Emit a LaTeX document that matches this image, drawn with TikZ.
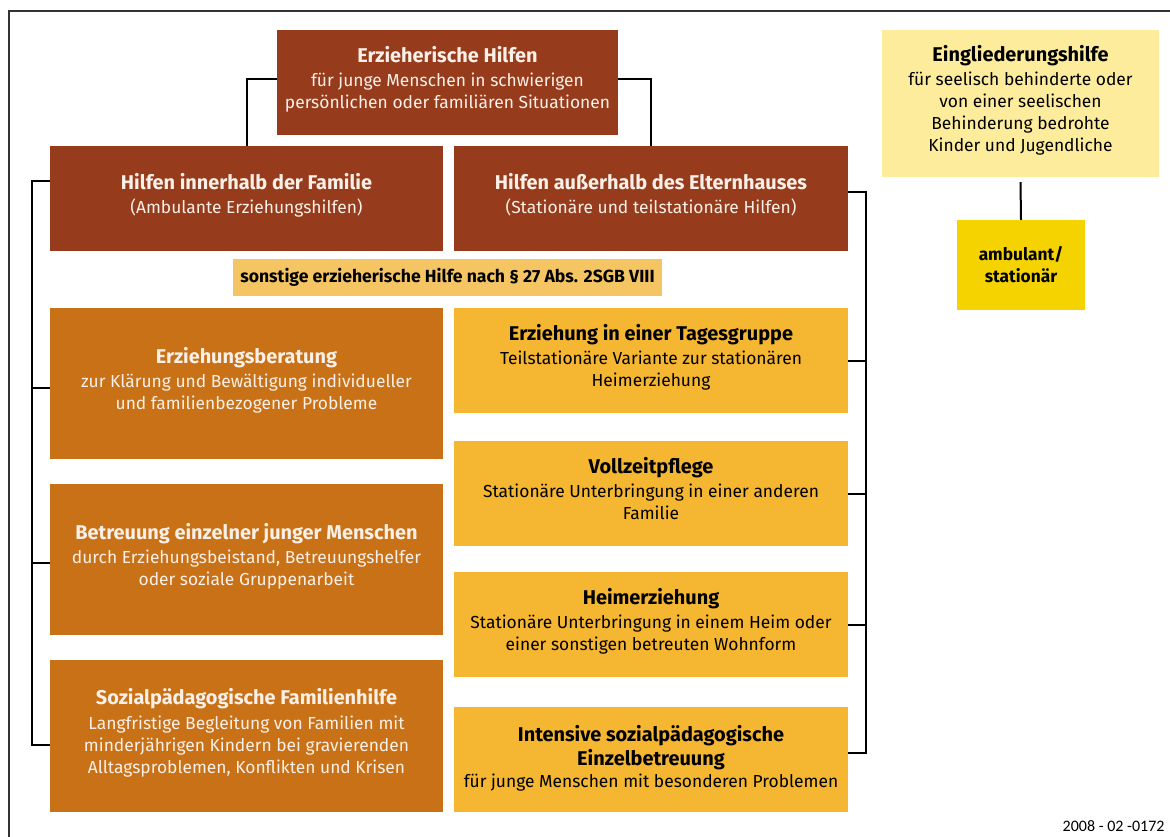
\documentclass[tikz,border=0pt]{standalone}
\usepackage{fontspec}
\setmainfont{Fira Sans}
\newfontfamily\footfont{Carlito}
\usepackage{tikz}
\usetikzlibrary{positioning,calc}

\definecolor{braun}{HTML}{963C1D}
\definecolor{ocker}{HTML}{C87116}
\definecolor{gold}{HTML}{F5B631}
\definecolor{sand}{HTML}{F6C563}
\definecolor{blass}{HTML}{FDEC9B}
\definecolor{zitron}{HTML}{F5D300}
\definecolor{creme}{HTML}{FAF0E8}
\definecolor{rahmen}{HTML}{333333}

\newcommand{\titel}[1]{{\bfseries\fontsize{19.9}{22}\selectfont #1}\\[2.5pt]}
\newcommand{\fett}[1]{{\bfseries\fontsize{19.9}{22}\selectfont #1}}

\begin{document}
\begin{tikzpicture}[
			x = 1pt, y = -1pt,
			box/.style = {inner sep = 0pt, align = center, font = \fontsize{17.4}{22}\selectfont},
			tief/.style = {box, text depth = 10.5pt},
			dunkel/.style = {tief, fill = braun, text = creme, minimum height = 105},
			mittel/.style = {tief, fill = ocker, text = creme, minimum width = 393, minimum height = 151},
			hell/.style = {tief, fill = gold, text = black, minimum width = 394, minimum height = 105},
			linie/.style = {line width = 2pt, black}
			]

			\useasboundingbox (0,0) rectangle (1170,837);

			\def\lx{246.5}
			\def\rx{651}

			% Rahmen
			\draw[line width = 1.6pt, rahmen] (1170,11) -- (9,11) -- (9,837);

			% Kopf
			\node[dunkel, minimum width = 341] (kopf) at (447.5,82.5)
				{\titel{Erzieherische Hilfen}für junge Menschen in schwierigen\\persönlichen oder familiären Situationen};
			\node[dunkel, minimum width = 393] (innen) at (\lx,198.5)
				{\titel{Hilfen innerhalb der Familie}(Ambulante Erziehungshilfen)};
			\node[dunkel, minimum width = 394] (aussen) at (\rx,198.5)
				{\titel{Hilfen außerhalb des Elternhauses}(Stationäre und teilstationäre Hilfen)};

			\node[box, fill = sand, minimum width = 429, minimum height = 37, font = \bfseries\fontsize{17.6}{20}\selectfont] (sonst) at (447.5,277.5)
				{sonstige erzieherische Hilfe nach § 27 Abs. 2SGB VIII};

			% linke Spalte
			\node[mittel] (beratung) at (\lx,383.5)
				{\titel{Erziehungsberatung}zur Klärung und Bewältigung individueller\\und familienbezogener Probleme};
			\node[mittel] (betreuung) at (\lx,559.5)
				{\titel{Betreuung einzelner junger Menschen}durch Erziehungsbeistand, Betreuungshelfer\\oder soziale Gruppenarbeit};
			\node[mittel, minimum height = 152] (familie) at (\lx,736)
				{\titel{Sozialpädagogische Familienhilfe}Langfristige Begleitung von Familien mit\\minderjährigen Kindern bei gravierenden\\Alltagsproblemen, Konflikten und Krisen};

			% rechte Spalte
			\node[hell] (tages) at (\rx,360.5)
				{\titel{Erziehung in einer Tagesgruppe}Teilstationäre Variante zur stationären\\Heimerziehung};
			\node[hell] (pflege) at (\rx,493.5)
				{\titel{Vollzeitpflege}Stationäre Unterbringung in einer anderen\\Familie};
			\node[hell] (heim) at (\rx,624.5)
				{\titel{Heimerziehung}Stationäre Unterbringung in einem Heim oder\\einer sonstigen betreuten Wohnform};
			\node[hell, text depth = 6pt] (intensiv) at (\rx,759.5)
				{\fett{Intensive sozialpädagogische}\\[2pt]\fett{Einzelbetreuung}\\für junge Menschen mit besonderen Problemen};

			% Eingliederungshilfe
			\node[tief, fill = blass, minimum width = 277, minimum height = 147] (eingl) at (1020.5,103.5)
				{\titel{Eingliederungshilfe}für seelisch behinderte oder\\von einer seelischen\\Behinderung bedrohte\\Kinder und Jugendliche};
			\node[box, fill = zitron, minimum width = 128, minimum height = 90, font = \bfseries\fontsize{17.3}{22}\selectfont] (amb) at (1021,265)
				{ambulant/\\stationär};

			% Verbindungen
			\draw[linie] ([yshift=3pt]kopf.west) -| (innen.north);
			\draw[linie] ([yshift=3pt]kopf.east) -| (aussen.north);
			\draw[linie] ([yshift=-5pt]eingl.south) -- (amb.north);

			\draw[linie] ([yshift=17pt]innen.west) -- ++(-18,0) coordinate (lk) |- ([yshift=-9pt]familie.west);
			\foreach \n/\s in {beratung/-4,betreuung/-3}
				\draw[linie] ([yshift=\s pt]\n.west) -- ([yshift=\s pt]\n.west -| lk);

			\draw[linie] ([yshift=6pt]aussen.east) -- ++(18,0) coordinate (rk) |- ([yshift=7pt]intensiv.east);
			\foreach \n in {tages,pflege,heim}
				\draw[linie] (\n.east) -- (\n.east -| rk);

			\node[anchor = east, font = \footfont\fontsize{16}{18}\selectfont] (nummer) at (1168,826) {2008 - 02 -0172};

		\end{tikzpicture}
\end{document}
